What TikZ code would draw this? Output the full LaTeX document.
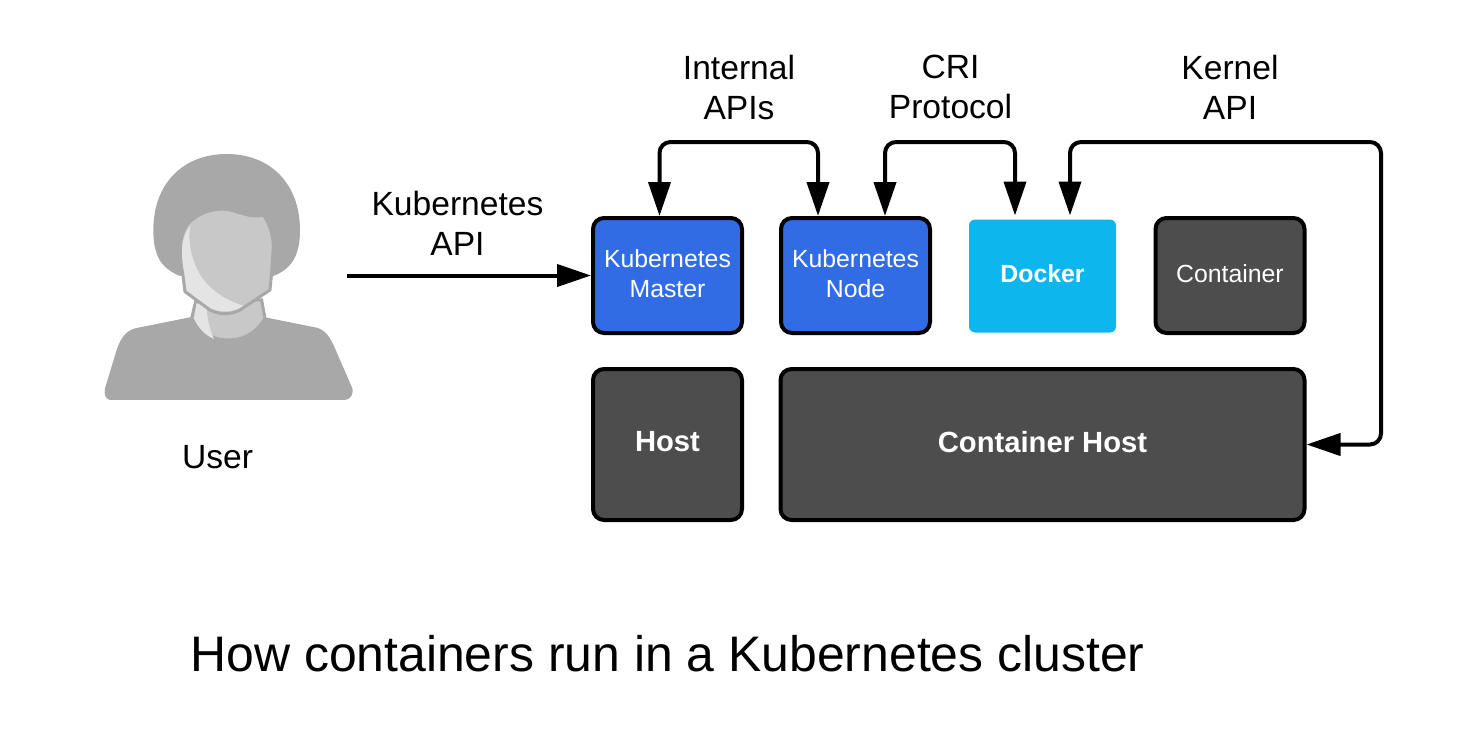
\documentclass[tikz,border=0pt]{standalone}
\usepackage{fontspec}
\setmainfont{Liberation Sans}
\usetikzlibrary{arrows.meta}
\usetikzlibrary{calc}

\definecolor{kubeblue}{HTML}{326CE5}
\definecolor{dockerblue}{HTML}{0DB7ED}
\definecolor{hostgrey}{HTML}{4D4D4D}
\definecolor{hairgrey}{HTML}{A8A8A8}
\definecolor{facegrey}{HTML}{C8C8C8}
\definecolor{lightgrey}{HTML}{E4E4E4}

\begin{document}
\begin{tikzpicture}[x=1pt, y=-1pt,
  box/.style={draw=black, line width=4pt, rounded corners=11pt, text=white, align=center, inner sep=0pt, outer sep=2pt, text depth=4pt, font=\fontsize{24.8}{30}\selectfont},
  kube/.style={box, fill=kubeblue, minimum width=149pt, minimum height=115pt},
  host/.style={box, fill=hostgrey, minimum height=151pt, text depth=6pt, font=\fontsize{29.2}{34}\selectfont\bfseries},
  label/.style={align=center, font=\fontsize{33.6}{40}\selectfont},
  line/.style={line width=4pt, rounded corners=11pt, >={Triangle[length=34pt, width=22pt]}}]
\useasboundingbox (0, 0) rectangle (1476, 737);

\node [kube] (master) at (667.5, 275.5) {Kubernetes\\Master};
\node [kube] (knode) at (855.5, 275.5) {Kubernetes\\Node};
\node [box, fill=dockerblue, draw=none, rounded corners=6pt, outer sep=0pt, minimum width=147pt, minimum height=113pt, font=\fontsize{24.8}{30}\selectfont\bfseries] (docker) at (1042.5, 276) {Docker};
\node [box, fill=hostgrey, minimum width=149pt, minimum height=115pt] (container) at (1230, 275.5) {Container};
\node [host, minimum width=149pt] (hostbox) at (667.5, 444.5) {Host};
\node [host, minimum width=524pt] (chost) at (1042.5, 444.5) {Container Host};

% the user figure, in units of a third of a point
\begin{scope}[shift={(90, 140)}, x=0.3333pt, y=-0.3333pt]
\fill [hairgrey] (60, 780) .. controls (50, 780) and (40, 765) .. (45, 745) -- (80, 630) .. controls (95, 585) and (115, 568) .. (145, 563) -- (300, 532) -- (525, 532) -- (680, 563) .. controls (705, 570) and (720, 590) .. (735, 625) -- (785, 740) .. controls (795, 760) and (780, 780) .. (765, 780) -- cycle;
\fill [hairgrey] (270, 408) .. controls (215, 385) and (190, 350) .. (190, 270) .. controls (190, 130) and (280, 42) .. (410, 42) .. controls (540, 42) and (630, 130) .. (630, 270) .. controls (630, 340) and (610, 385) .. (550, 408) -- cycle;
\fill [facegrey, draw=hairgrey, line width=3pt] (318, 480) -- (305, 535) .. controls (330, 580) and (370, 600) .. (415, 600) .. controls (470, 600) and (505, 570) .. (525, 535) -- (515, 480) -- cycle;
\fill [lightgrey] (320, 490) -- (312, 535) .. controls (325, 565) and (345, 585) .. (372, 597) .. controls (355, 560) and (350, 520) .. (350, 500) -- cycle;
\fill [facegrey, draw=hairgrey, line width=3pt, line join=round] (295, 250) .. controls (330, 215) and (370, 205) .. (410, 208) .. controls (450, 215) and (480, 235) .. (520, 225) .. controls (535, 245) and (550, 280) .. (550, 320) -- (545, 400) -- (540, 450) -- (450, 510) .. controls (420, 525) and (390, 525) .. (360, 510) -- (285, 455) -- (278, 400) .. controls (268, 340) and (265, 290) .. (295, 250) -- cycle;
\fill [lightgrey] (300, 258) .. controls (272, 295) and (272, 340) .. (283, 400) -- (290, 452) -- (362, 505) .. controls (390, 517) and (430, 520) .. (460, 497) .. controls (400, 480) and (345, 440) .. (320, 385) .. controls (300, 340) and (295, 300) .. (300, 258) -- cycle;
\end{scope}

\node [label] (userlabel) at (217.5, 457) {User};
\node [label] (apilabel) at (457.5, 223) {Kubernetes\\API};
\node [label] (internallabel) at (739, 87) {Internal\\APIs};
\node [label] (crilabel) at (950.5, 87) {CRI\\Protocol};
\node [label] (kernellabel) at (1230, 87) {Kernel\\API};
\node [font=\fontsize{49.9}{60}\selectfont] (title) at (667.5, 654) {How containers run in a Kubernetes cluster};

\coordinate (userend) at (347, 275.5);
\coordinate (railtop) at (0, 142);
\coordinate (railright) at (1381, 0);
\coordinate (mastertop) at ($(master.north) + (-8, 0)$);
\coordinate (knodeleft) at ($(knode.north) + (-37.5, 0)$);
\coordinate (knoderight) at ($(knode.north) + (29.5, 0)$);
\coordinate (dockerleft) at ($(docker.north) + (-27.5, -4)$);
\coordinate (dockerright) at ($(docker.north) + (27.5, -4)$);

\draw[->, line] (userend) -- (master.west |- userend);
\draw[<->, line] (mastertop) -- (mastertop |- railtop) -- (knodeleft |- railtop) -- (knodeleft);
\draw[<->, line] (knoderight) -- (knoderight |- railtop) -- (dockerleft |- railtop) -- (dockerleft);
\draw[<->, line] (dockerright) -- (dockerright |- railtop) -- (railright |- railtop) -- (railright |- chost.east) -- (chost.east);
\end{tikzpicture}
\end{document}
